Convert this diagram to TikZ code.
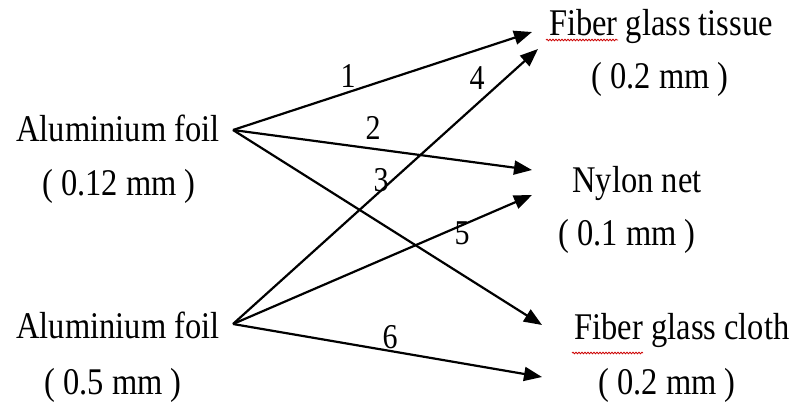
\documentclass[tikz,border=0pt]{standalone}
\usepackage{fontspec}
\setmainfont{Liberation Serif}
\usetikzlibrary{arrows.meta,decorations.pathmorphing}
\newcommand{\tall}[1]{\scalebox{1}[1.16]{#1}}
\begin{document}
\begin{tikzpicture}[x=1pt,y=-1pt,
  lbl/.style={inner sep=0pt,font=\fontsize{32.5}{32.5}\selectfont},
  num/.style={inner sep=0pt,font=\fontsize{30}{30}\selectfont},
  conn/.style={line width=2.2pt,-{Triangle[length=18pt,width=14pt]}},
  spell/.style={red!80!black,line width=0.8pt,decorate,decoration={snake,amplitude=0.8pt,segment length=3pt}}]
\useasboundingbox (0,0) rectangle (801,410);
% left
\node[lbl] (a1) at (118,128) {\tall{Aluminium foil}};
\node[lbl] (a1t) at (119,186) {\tall{( 0.12 mm )}};
\node[lbl] (a2) at (118,325) {\tall{Aluminium foil}};
\node[lbl] (a2t) at (113,385) {\tall{( 0.5 mm )}};
% right
\node[lbl] (r1) at (661,26) {\tall{Fiber glass tissue}};
\node[lbl] (r1t) at (660,79) {\tall{( 0.2 mm )}};
\node[lbl] (r2) at (637,183) {\tall{Nylon net}};
\node[lbl] (r2t) at (627,236) {\tall{( 0.1 mm )}};
\node[lbl] (r3) at (682,330) {\tall{Fiber glass cloth}};
\node[lbl] (r3t) at (667,385) {\tall{( 0.2 mm )}};
% spell underlines
\coordinate (u1a) at (546,40); \coordinate (u1b) at (618,40);
\coordinate (u3a) at (572,353); \coordinate (u3b) at (643,353);
\draw[spell] (u1a) -- (u1b);
\draw[spell] (u3a) -- (u3b);
% endpoints
\coordinate (s1) at (233,130);
\coordinate (s2) at (233,324);
\coordinate (t1) at (532,32);
\coordinate (t2) at (532,170);
\coordinate (t3) at (542,325);
\coordinate (t4) at (538,49);
\coordinate (t5) at (532,195);
\coordinate (t6) at (542,377);
\draw[conn] (s1) -- (t1);
\draw[conn] (s1) -- (t2);
\draw[conn] (s1) -- (t3);
\draw[conn] (s2) -- (t4);
\draw[conn] (s2) -- (t5);
\draw[conn] (s2) -- (t6);
% numbers
\node[num] (n1) at (348,76) {\tall{1}};
\node[num] (n2) at (373,128) {\tall{2}};
\node[num] (n3) at (381,180) {\tall{3}};
\node[num] (n4) at (477,78) {\tall{4}};
\node[num] (n5) at (462,233) {\tall{5}};
\node[num] (n6) at (390,337) {\tall{6}};
\end{tikzpicture}
\end{document}
